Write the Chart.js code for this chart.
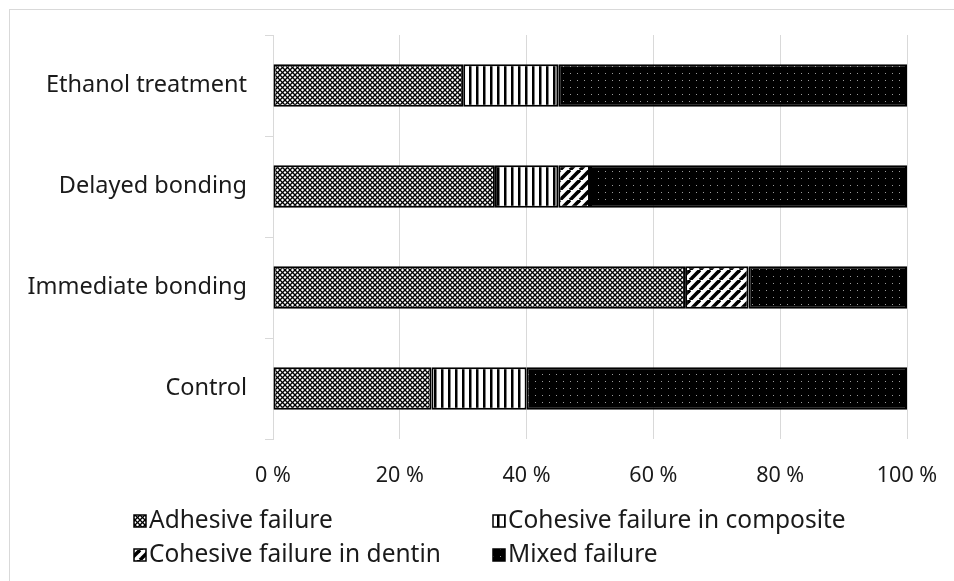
<!DOCTYPE html>
<html>
<head>
<meta charset="utf-8">
<script src="https://cdn.jsdelivr.net/npm/chart.js@4"></script>
<style>
html, body { margin: 0; background: #fff; overflow: hidden; }
#frame { position: absolute; left: 9px; top: 9px; width: 1000px; height: 1000px; border: 1.5px solid #d9d9d9; }
#wrap { position: absolute; left: 0; top: 0; width: 954px; height: 581px; }
</style>
</head>
<body>
<div id="frame"></div>
<div id="wrap"><canvas id="chart"></canvas></div>
<script>
// groups, top to bottom as in the figure
const groups = ['Ethanol treatment', 'Delayed bonding', 'Immediate bonding', 'Control'];
const adhesive = [30, 35, 65, 25];
const cohesiveComposite = [15, 10, 0, 15];
const cohesiveDentin = [0, 5, 10, 0];
const mixed = [55, 50, 25, 60];
const seriesNames = ['Adhesive failure', 'Cohesive failure in composite', 'Cohesive failure in dentin', 'Mixed failure'];
const xTicks = [0, 20, 40, 60, 80, 100];

const FONT = "'Noto Sans', sans-serif";
const canvas = document.getElementById('chart');
const ctx = canvas.getContext('2d');

function makePattern(w, h, draw) {
    const c = document.createElement('canvas');
    c.width = w;
    c.height = h;
    draw(c.getContext('2d'), w, h);
    return ctx.createPattern(c, 'repeat');
}

// crosshatch (adhesive)
const patAdhesive = makePattern(5, 5, (g, w, h) => {
    g.fillStyle = '#fff';
    g.fillRect(0, 0, w, h);
    g.strokeStyle = '#000';
    g.lineWidth = 1.3;
    for (const o of [-5, 0, 5]) {
        g.beginPath(); g.moveTo(o, 0); g.lineTo(o + 5, 5); g.stroke();
        g.beginPath(); g.moveTo(o + 5, 0); g.lineTo(o, 5); g.stroke();
    }
});
// vertical stripes (composite)
const patComposite = makePattern(7, 4, (g, w, h) => {
    g.fillStyle = '#fff';
    g.fillRect(0, 0, w, h);
    g.fillStyle = '#000';
    g.fillRect(0, 0, 2.5, h);
});
// diagonal stripes (dentin)
const patDentin = makePattern(10, 10, (g, w, h) => {
    g.fillStyle = '#fff';
    g.fillRect(0, 0, w, h);
    g.strokeStyle = '#000';
    g.lineWidth = 3.6;
    for (const o of [-10, 0, 10]) {
        g.beginPath(); g.moveTo(o, 10); g.lineTo(o + 10, 0); g.stroke();
    }
});
// black with light dots (mixed)
const patMixed = makePattern(7, 7, (g, w, h) => {
    g.fillStyle = '#000';
    g.fillRect(0, 0, w, h);
    g.fillStyle = '#9a9a9a';
    g.fillRect(3, 3, 1, 1);
});

const patterns = [patAdhesive, patComposite, patDentin, patMixed];
const seriesData = [adhesive, cohesiveComposite, cohesiveDentin, mixed];

const legendPlugin = {
    id: 'gridLegend',
    afterDraw(chart) {
        const c = chart.ctx;
        const cols = [134, 493];
        const rows = [521, 555];
        c.save();
        c.font = '24.5px ' + FONT;
        c.textBaseline = 'middle';
        c.textAlign = 'left';
        seriesNames.forEach((name, i) => {
            const x = cols[i % 2];
            const y = rows[Math.floor(i / 2)];
            c.fillStyle = patterns[i];
            c.fillRect(x, y - 6, 12, 12);
            c.strokeStyle = '#000';
            c.lineWidth = 1.5;
            c.strokeRect(x, y - 6, 12, 12);
            c.fillStyle = '#1a1a1a';
            c.fillText(name, x + 15, y);
        });
        c.restore();
    }
};

new Chart(canvas, {
    type: 'bar',
    data: {
        labels: groups,
        datasets: seriesNames.map((name, i) => ({
            label: name,
            data: seriesData[i],
            backgroundColor: patterns[i],
            borderColor: '#000',
            borderWidth: 2,
            borderSkipped: false,
            categoryPercentage: 1,
            barPercentage: 0.42
        }))
    },
    options: {
        indexAxis: 'y',
        responsive: true,
        maintainAspectRatio: false,
        animation: false,
        layout: { padding: { left: 0, right: 47, top: 35, bottom: 97 } },
        plugins: {
            legend: { display: false },
            tooltip: { enabled: false }
        },
        scales: {
            x: {
                stacked: true,
                min: 0,
                max: 100,
                afterBuildTicks: (scale) => { scale.ticks = xTicks.map(v => ({ value: v })); },
                afterFit: (scale) => {
                    scale.height = 45;
                    scale.paddingLeft = 0;
                    scale.paddingRight = 0;
                },
                grid: { color: '#d9d9d9', lineWidth: 1, drawTicks: false },
                border: { display: false },
                ticks: {
                    padding: 24,
                    color: '#1a1a1a',
                    font: { family: FONT, size: 21.5 },
                    callback: (v) => v + ' %'
                }
            },
            y: {
                stacked: true,
                afterFit: (scale) => { scale.width = 273; },
                grid: { color: '#d9d9d9', drawOnChartArea: false, tickLength: 8, offset: true },
                border: { display: true, color: '#d9d9d9', width: 1 },
                ticks: {
                    padding: 18,
                    color: '#1a1a1a',
                    font: { family: FONT, size: 23.5 }
                }
            }
        }
    },
    plugins: [legendPlugin]
});
</script>
</body>
</html>
